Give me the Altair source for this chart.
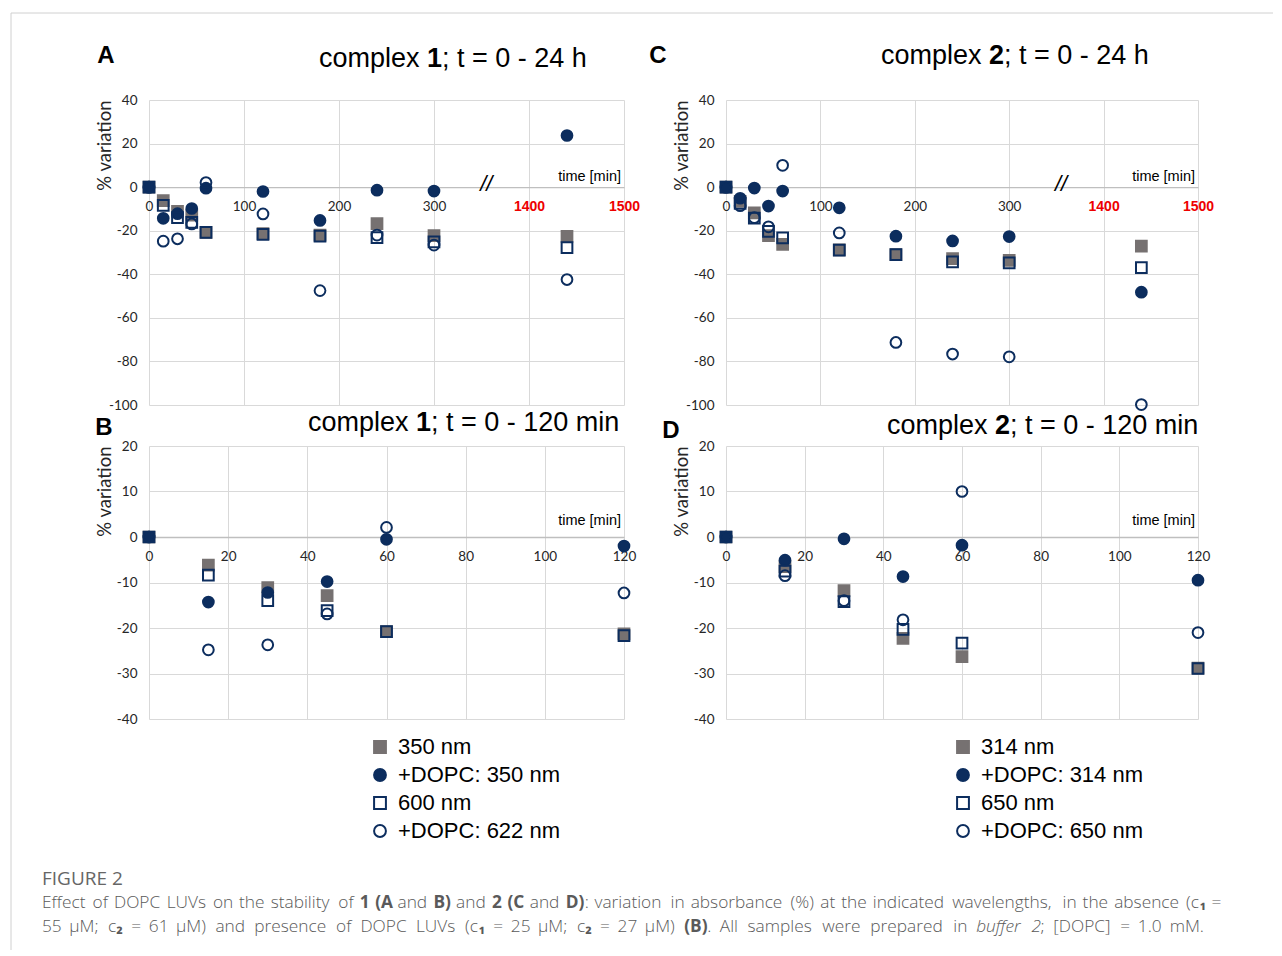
import altair as alt
import pandas as pd

NAVY = "#0c2d5e"
GRAY = "#767171"
GRIDC = "#d9d9d9"
ZEROC = "#bfbfbf"
RED = "#ee0000"
AXT = "#262626"

# ---------------- data ----------------
times = [0, 15, 30, 45, 60, 120, 180, 240, 300, 1440]

series_c1 = ["350 nm", "+DOPC: 350 nm", "600 nm", "+DOPC: 622 nm"]
c1_350 = [0, -6.2, -11.1, -12.9, -20.8, -21.3, -22.0, -16.7, -22.3, -22.6]
c1_dopc350 = [0, -14.3, -12.2, -9.8, -0.5, -2.0, -15.3, -1.4, -1.8, 23.7]
c1_600 = [0, -8.4, -14.0, -16.2, -20.8, -21.7, -22.5, -23.2, -25.1, -27.8]
c1_dopc622 = [0, -24.8, -23.7, -16.9, 2.1, -12.3, -47.5, -22.0, -26.6, -42.4]

series_c2 = ["314 nm", "+DOPC: 314 nm", "650 nm", "+DOPC: 650 nm"]
c2_314 = [0, -6.5, -11.8, -22.3, -26.3, -28.8, -31.0, -32.8, -33.6, -27.1]
c2_dopc314 = [0, -5.1, -0.4, -8.7, -1.8, -9.5, -22.5, -24.7, -22.7, -48.2]
c2_650 = [0, -7.5, -14.2, -20.3, -23.3, -28.9, -31.0, -34.3, -34.8, -36.9]
c2_dopc650 = [0, -8.5, -14.0, -18.2, 10.0, -21.0, -71.3, -76.6, -77.9, -99.8]

y_ticks_long = [-100, -80, -60, -40, -20, 0, 20, 40]
y_ticks_short = [-40, -30, -20, -10, 0, 10, 20]
x_ticks_long = [0, 100, 200, 300, 400, 500]      # 400 / 500 are shown as 1400 / 1500 (broken axis)
x_ticks_short = [0, 20, 40, 60, 80, 100, 120]

shapes = ["square", "circle", "square", "circle"]
fills = [GRAY, NAVY, "transparent", "transparent"]
strokes = [GRAY, NAVY, NAVY, NAVY]


def long_df(series, cols):
    rows = []
    for name, vals in zip(series, cols):
        for t, v in zip(times, vals):
            rows.append({"t": t, "v": v, "s": name})
    return pd.DataFrame(rows)


df1 = long_df(series_c1, [c1_350, c1_dopc350, c1_600, c1_dopc622])
df2 = long_df(series_c2, [c2_314, c2_dopc314, c2_650, c2_dopc650])


def label(text, x, y, size, weight="normal", style="normal", font="Liberation Sans",
          color="black", align="left"):
    return alt.Chart(pd.DataFrame({"t": [text]})).mark_text(
        align=align, baseline="middle", font=font, fontSize=size,
        fontWeight=weight, fontStyle=style, color=color
    ).encode(x=alt.value(x), y=alt.value(y), text="t:N")


def cond(a, b):
    return {"condition": {"test": "datum.value >= 400", "value": a}, "value": b}


def panel(df, series, long, width, height, title_xy, digit, rest, letter, letter_xy,
          time_dy, legend_xy=None, extra=()):
    if long:
        ydom, yt, xdom, xt = [-100, 40], y_ticks_long, [0, 500], x_ticks_long
    else:
        ydom, yt, xdom, xt = [-40, 20], y_ticks_short, [0, 120], x_ticks_short
    zero_px = height * ydom[1] / (ydom[1] - ydom[0])
    xoff = -(height - zero_px)
    xs = alt.Scale(domain=xdom, nice=False, zero=False)
    ys = alt.Scale(domain=ydom, nice=False, zero=False)

    xaxis = alt.Axis(
        values=xt, title=None, offset=xoff, grid=True, gridColor=GRIDC, gridWidth=1,
        domain=True, domainColor=ZEROC, domainWidth=1.3, ticks=False,
        labelPadding=12, labelFlush=False, labelOverlap=False,
        labelFont=cond("Liberation Sans", "Lato"), labelFontSize=cond(14, 13.5),
        labelFontWeight=cond("bold", "normal"), labelColor=cond(RED, AXT),
        labelExpr="datum.value >= 400 ? '' + (datum.value + 1000) : datum.label",
    )
    yaxis = alt.Axis(
        values=yt, title="% variation", grid=True, gridColor=GRIDC, domain=False, ticks=False,
        labelPadding=12, labelFont="Lato", labelFontSize=13.5, labelColor=AXT,
        labelExpr="datum.value < 0 ? '-' + abs(datum.value) : '' + datum.value",
        titleFont="Lato", titleFontSize=18.5, titleFontWeight="normal", titleColor=AXT,
        titleAnchor="end", titleX=-45, titleBaseline="middle",
    )

    leg = None
    if legend_xy is not None:
        leg = alt.Legend(
            title=None, orient="none", legendX=legend_xy[0], legendY=legend_xy[1],
            labelFont="Liberation Sans", labelFontSize=22, labelColor="black",
            labelLimit=500, symbolSize=140, symbolStrokeWidth=2, rowPadding=6,
            labelOffset=7, padding=0,
        )

    base = alt.Chart(df)
    if long:
        base = base.transform_calculate(xp="datum.t >= 1000 ? datum.t - 1000 : datum.t")
    else:
        base = base.transform_filter("datum.t <= 120").transform_calculate(xp="datum.t")

    pts = base.mark_point(size=115, strokeWidth=2, opacity=1, clip=False).encode(
        x=alt.X("xp:Q", scale=xs, axis=xaxis),
        y=alt.Y("v:Q", scale=ys, axis=yaxis),
        shape=alt.Shape("s:N", scale=alt.Scale(domain=series, range=shapes), legend=leg),
        fill=alt.Fill("s:N", scale=alt.Scale(domain=series, range=fills), legend=leg),
        stroke=alt.Stroke("s:N", scale=alt.Scale(domain=series, range=strokes), legend=leg),
    )

    tm = alt.Chart(pd.DataFrame({"xp": [xdom[1]], "v": [0], "t": ["time [min]"]})).mark_text(
        align="right", baseline="bottom", dx=-3, dy=time_dy, font="Liberation Sans",
        fontSize=14.5, color="black"
    ).encode(x=alt.X("xp:Q", scale=xs, axis=xaxis), y=alt.Y("v:Q", scale=ys, axis=yaxis), text="t:N")

    layers = [pts, tm]
    if long:
        brk = alt.Chart(pd.DataFrame({"xp": [355], "v": [0], "t": ["//"]})).mark_text(
            align="center", baseline="middle", dy=-3, font="Liberation Sans",
            fontSize=22, fontStyle="italic", color="black"
        ).encode(x=alt.X("xp:Q", scale=xs, axis=xaxis), y=alt.Y("v:Q", scale=ys, axis=yaxis), text="t:N")
        layers.append(brk)

    tx, ty = title_xy
    fs = 27
    layers += [
        label("complex", tx, ty, fs),
        label(digit, tx + 108, ty, fs, weight="bold"),
        label(rest, tx + 123, ty, fs),
        label(letter, letter_xy[0], letter_xy[1], 24, weight="bold", align="center"),
    ]
    layers += list(extra)
    return alt.layer(*layers).properties(width=width, height=height)


# ---------- frame (panel A coordinates: origin at 148, 99) ----------
frame_col = "#d0d0d0"
frame = [
    alt.Chart(pd.DataFrame({"a": [0]})).mark_rule(color=frame_col, strokeWidth=1).encode(
        x=alt.value(-138), x2=alt.value(1124), y=alt.value(-87)),
    alt.Chart(pd.DataFrame({"a": [0]})).mark_rule(color=frame_col, strokeWidth=1).encode(
        x=alt.value(-138), y=alt.value(-87), y2=alt.value(850)),
]

# ---------- caption (panel B coordinates: origin at 148, 445), justified lines ----------
OX, OY = 148, 445
CAP = "#5a5a5a"
cf = "Open Sans"
cs = 17.3
LIGHT = 300

# approximate Open Sans advance widths (em), used only to justify the caption lines
CW = {'a': .556, 'b': .613, 'c': .476, 'd': .613, 'e': .561, 'f': .339, 'g': .548, 'h': .614,
      'i': .253, 'j': .253, 'k': .525, 'l': .253, 'm': .93, 'n': .614, 'o': .604, 'p': .613,
      'q': .613, 'r': .408, 's': .477, 't': .353, 'u': .614, 'v': .501, 'w': .778, 'x': .524,
      'y': .502, 'z': .477, 'A': .633, 'B': .648, 'C': .631, 'D': .729, 'E': .556, 'F': .549,
      'G': .728, 'H': .742, 'I': .291, 'L': .563, 'M': .903, 'O': .787, 'P': .604, 'R': .621,
      'S': .536, 'U': .738, 'V': .596, '(': .297, ')': .297, ';': .269, ':': .269, '=': .556,
      '%': .831, '[': .331, ']': .331, '.': .266, ',': .266, '\u03bc': .614,
      '\u2081': .37, '\u2082': .37}
for d in "0123456789":
    CW[d] = .556

N, Bd, It = "normal", "bold", "italic"
# (text, weight, style, space_before)
line1 = [("Effect", N, N, True), ("of", N, N, True), ("DOPC", N, N, True), ("LUVs", N, N, True),
         ("on", N, N, True), ("the", N, N, True), ("stability", N, N, True), ("of", N, N, True),
         ("1", Bd, N, True), ("(A", Bd, N, True), ("and", N, N, True), ("B)", Bd, N, True),
         ("and", N, N, True), ("2", Bd, N, True), ("(C", Bd, N, True), ("and", N, N, True),
         ("D)", Bd, N, True), (":", N, N, False), ("variation", N, N, True), ("in", N, N, True),
         ("absorbance", N, N, True), ("(%)", N, N, True), ("at", N, N, True), ("the", N, N, True),
         ("indicated", N, N, True), ("wavelengths,", N, N, True), ("in", N, N, True),
         ("the", N, N, True), ("absence", N, N, True), ("(c", N, N, True), ("\u2081", Bd, N, False),
         ("=", N, N, True)]
line2 = [("55", N, N, True), ("\u03bcM;", N, N, True), ("c", N, N, True), ("\u2082", Bd, N, False),
         ("=", N, N, True), ("61", N, N, True), ("\u03bcM)", N, N, True), ("and", N, N, True),
         ("presence", N, N, True), ("of", N, N, True), ("DOPC", N, N, True), ("LUVs", N, N, True),
         ("(c", N, N, True), ("\u2081", Bd, N, False), ("=", N, N, True), ("25", N, N, True),
         ("\u03bcM;", N, N, True), ("c", N, N, True), ("\u2082", Bd, N, False), ("=", N, N, True),
         ("27", N, N, True), ("\u03bcM)", N, N, True), ("(B)", Bd, N, True), (".", N, N, False),
         ("All", N, N, True), ("samples", N, N, True), ("were", N, N, True), ("prepared", N, N, True),
         ("in", N, N, True), ("buffer", N, It, True), ("2", N, It, True), (";", N, N, False),
         ("[DOPC]", N, N, True), ("=", N, N, True), ("1.0", N, N, True), ("mM.", N, N, True)]


def tok_width(text, weight, style):
    w = sum(CW.get(ch, 0.55) for ch in text) * cs
    if weight == Bd:
        w *= 1.07
    if style == It:
        w *= 0.95
    return w


def justify(tokens, x0, x1, y):
    widths = [tok_width(t, w, s) for t, w, s, _ in tokens]
    nsp = sum(1 for tok in tokens[1:] if tok[3])
    gap = (x1 - x0 - sum(widths)) / nsp
    out = []
    x = x0
    for i, (tok, wd) in enumerate(zip(tokens, widths)):
        if i > 0 and tok[3]:
            x += gap
        weight = "bold" if tok[1] == Bd else LIGHT
        out.append(label(tok[0], x - OX, y - OY, cs, weight=weight, style=tok[2], font=cf, color=CAP))
        x += wd
    return out


caption = [label("FIGURE 2", 41 - OX, 878 - OY, 19, font=cf, color="#666666")]
caption += justify(line1, 41, 1220, 902)
caption += justify(line2, 41, 1205, 926)

pA = panel(df1, series_c1, True, 475, 305, (170, -41), "1", "; t = 0 - 24 h", "A", (-43, -44),
           -3, extra=frame)
pC = panel(df2, series_c2, True, 472, 305, (155, -44), "2", "; t = 0 - 24 h", "C", (-68, -44),
           -3)
pB = panel(df1, series_c1, False, 475, 273, (159, -23), "1", "; t = 0 - 120 min", "B", (-45, -18),
           -9, legend_xy=(220, 290), extra=caption)
pD = panel(df2, series_c2, False, 472, 273, (161, -20), "2", "; t = 0 - 120 min", "D", (-55, -15),
           -9, legend_xy=(226, 290))

chart = alt.concat(
    pA, pC, pB, pD, columns=2, spacing={"row": 41, "column": 102}, bounds="flush"
).resolve_scale(
    x="independent", y="independent", fill="independent", stroke="independent", shape="independent"
).properties(
    padding={"left": 10, "top": 12, "right": 0, "bottom": 0},
    autosize=alt.AutoSizeParams(type="pad"),
    background="white",
).configure_view(stroke=None)

chart.save("out.html", embed_options={"renderer": "svg", "actions": False})
